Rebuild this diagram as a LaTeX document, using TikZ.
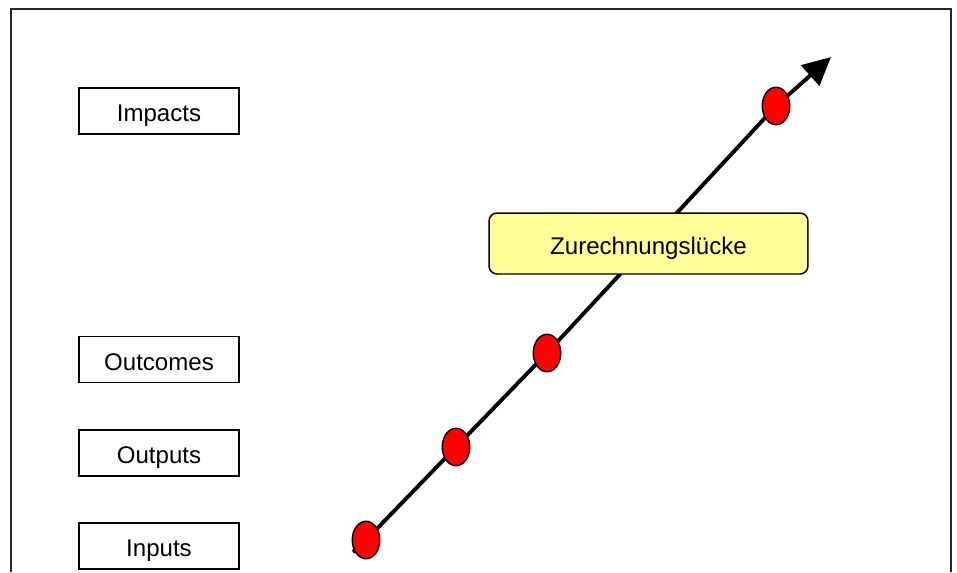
\documentclass[tikz,border=0pt]{standalone}
\usepackage{fontspec}
\setmainfont{Liberation Sans}
\usetikzlibrary{shapes.geometric,arrows.meta}
\definecolor{paleyellow}{HTML}{FFFF99}
\begin{document}
\begin{tikzpicture}[x=0.02cm,y=-0.02cm,
  txt/.style={font=\fontsize{13.7}{16}\selectfont,text height=0.42cm,text depth=0pt},
  level/.style={txt,draw=black,line width=0.85pt,fill=white,minimum width=3.2cm,minimum height=0.92cm,inner sep=0pt},
  gapbox/.style={txt,draw=black,line width=0.85pt,fill=paleyellow,rounded corners=0.16cm,minimum width=6.38cm,minimum height=1.22cm,inner sep=0pt},
  dot/.style={ellipse,draw=black,line width=0.8pt,fill=red,minimum width=0.55cm,minimum height=0.75cm,inner sep=0pt},
  mainline/.style={line width=2.2pt,-{Triangle[length=0.56cm,width=0.54cm]}}]
\useasboundingbox (0,0) rectangle (957,572);
\draw[line width=0.8pt,black!85] (11,572) -- (11,9) -- (951,9) -- (951,572);
% levels
\node[level] (impacts) at (159,111) {Impacts};
\node[level] (outcomes) at (159,359.5) {Outcomes};
\node[level] (outputs) at (159,453) {Outputs};
\node[level] (inputs) at (159,546) {Inputs};
% line
\coordinate (start) at (353,552);
\coordinate (c1) at (366,540);
\coordinate (c2) at (456,447);
\coordinate (c3) at (547,353);
\coordinate (c4) at (776,106);
\coordinate (tip) at (831,57);
\draw[mainline] (start) -- (c1) -- (c2) -- (c3) -- (c4) -- (tip);
\node[gapbox] (gap) at (648.5,243.5) {Zurechnungslücke};
\node[dot] (d1) at (c1) {};
\node[dot] (d2) at (c2) {};
\node[dot] (d3) at (c3) {};
\node[dot] (d4) at (c4) {};
\end{tikzpicture}
\end{document}
